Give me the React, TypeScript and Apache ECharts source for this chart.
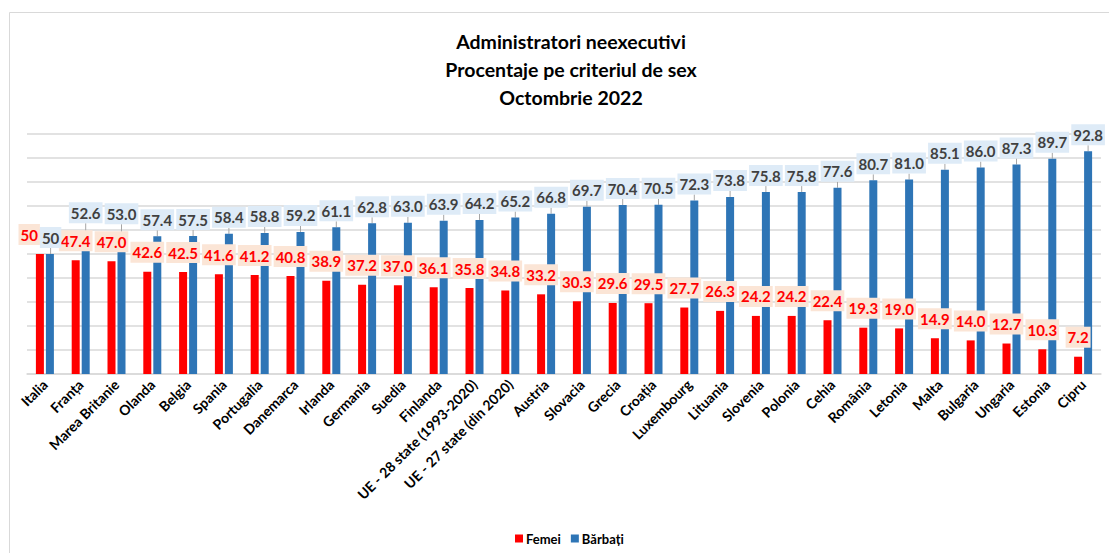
import React, { useEffect, useRef } from "react";
import * as echarts from "echarts";

const titleLines = ["Administratori neexecutivi", "Procentaje pe criteriul de sex", "Octombrie 2022"];

const categories = [
  "Italia", "Franța", "Marea Britanie", "Olanda", "Belgia", "Spania", "Portugalia", "Danemarca",
  "Irlanda", "Germania", "Suedia", "Finlanda", "UE - 28 state (1993-2020)", "UE - 27 state (din 2020)",
  "Austria", "Slovacia", "Grecia", "Croația", "Luxembourg", "Lituania", "Slovenia", "Polonia", "Cehia",
  "România", "Letonia", "Malta", "Bulgaria", "Ungaria", "Estonia", "Cipru",
];

// values as printed in the source (kept as text to preserve "50" vs "47.0")
const femeiValues = [
  "50", "47.4", "47.0", "42.6", "42.5", "41.6", "41.2", "40.8", "38.9", "37.2", "37.0", "36.1", "35.8", "34.8",
  "33.2", "30.3", "29.6", "29.5", "27.7", "26.3", "24.2", "24.2", "22.4", "19.3", "19.0", "14.9", "14.0", "12.7",
  "10.3", "7.2",
];
const barbatiValues = [
  "50", "52.6", "53.0", "57.4", "57.5", "58.4", "58.8", "59.2", "61.1", "62.8", "63.0", "63.9", "64.2", "65.2",
  "66.8", "69.7", "70.4", "70.5", "72.3", "73.8", "75.8", "75.8", "77.6", "80.7", "81.0", "85.1", "86.0", "87.3",
  "89.7", "92.8",
];

const seriesNames = ["Femei", "Bărbați"];

const FONT = "Lato, 'Open Sans', sans-serif";
const GRID_TOP = 134;
const GRID_BOTTOM_Y = 374;
const PX_PER_UNIT = (GRID_BOTTOM_Y - GRID_TOP) / 100;
const BAR_W = 8;
const BAR_STEP = 10; // bar width + gap

export default function App() {
  const ref = useRef<HTMLDivElement>(null);

  useEffect(() => {
    if (!ref.current) return;
    const chart = echarts.init(ref.current, undefined, { renderer: "svg" });
    const femei = femeiValues.map(Number);
    const barbati = barbatiValues.map(Number);

    chart.setOption({
      animation: false,
      backgroundColor: "#ffffff",
      title: {
        text: titleLines.join("\n"),
        left: 566,
        top: 22,
        textAlign: "center",
        textStyle: {
          fontFamily: FONT,
          fontSize: 19.5,
          fontWeight: "bold",
          color: "#000000",
          lineHeight: 28,
        },
      },
      legend: {
        data: seriesNames,
        left: 510,
        top: 527,
        itemWidth: 8,
        itemHeight: 8,
        itemGap: 10,
        icon: "rect",
        textStyle: { fontFamily: FONT, fontSize: 13, fontWeight: "bold", color: "#000", padding: [0, 0, 0, -2] },
      },
      graphic: [
        {
          type: "rect",
          shape: { x: 9.5, y: 12.5, width: 1300, height: 700 },
          style: { fill: "none", stroke: "#d9d9d9", lineWidth: 1 },
          silent: true,
          z: -10,
        },
      ],
      grid: {
        left: 27,
        right: 8,
        top: GRID_TOP,
        bottom: 553 - GRID_BOTTOM_Y,
        containLabel: false,
      },
      xAxis: {
        type: "category",
        data: categories,
        axisTick: { show: false },
        axisLine: { lineStyle: { color: "#d9d9d9", width: 1.5 } },
        axisLabel: {
          interval: 0,
          rotate: 45,
          margin: 8,
          fontFamily: FONT,
          fontSize: 14,
          fontWeight: "bold",
          color: "#000000",
        },
      },
      yAxis: {
        type: "value",
        min: 0,
        max: 100,
        interval: 10,
        axisLabel: { show: false },
        axisLine: { show: false },
        axisTick: { show: false },
        splitLine: { lineStyle: { color: "#d9d9d9", width: 1.5 } },
      },
      series: [
        {
          name: seriesNames[0],
          type: "bar",
          data: femei,
          barWidth: BAR_W,
          barGap: "25%",
          itemStyle: { color: "#ff0000" },
          label: {
            show: true,
            position: "top",
            distance: 9,
            formatter: (p: any) => femeiValues[p.dataIndex],
            fontFamily: FONT,
            fontSize: 15,
            fontWeight: "bold",
            color: "#ff0000",
            backgroundColor: "#fbe5d6",
            padding: [2, 2, 2, 2],
            lineHeight: 17,
          },
          labelLayout: (p: any) => {
            const i = p.dataIndex;
            if (femei[i] === barbati[i]) {
              return { dx: -p.labelRect.width / 2 };
            }
            return {};
          },
        },
        {
          name: seriesNames[1],
          type: "bar",
          data: barbati,
          barWidth: BAR_W,
          itemStyle: { color: "#2e75b6" },
          label: {
            show: true,
            position: "top",
            distance: 6,
            formatter: (p: any) => barbatiValues[p.dataIndex],
            fontFamily: FONT,
            fontSize: 15,
            fontWeight: "bold",
            color: "#404040",
            backgroundColor: "#deebf7",
            padding: [2, 2, 2, 2],
            lineHeight: 17,
          },
          labelLine: { show: true, lineStyle: { color: "#a6a6a6", width: 1 } },
          labelLayout: (p: any) => {
            const i = p.dataIndex;
            const w = p.labelRect.width;
            const h = p.labelRect.height;
            if (femei[i] === barbati[i]) {
              return { dx: w / 2 - BAR_STEP };
            }
            const diffPx = (barbati[i] - femei[i]) * PX_PER_UNIT;
            const need = h + 4;
            if (diffPx < need) {
              return { dy: diffPx - need - 6 };
            }
            return {};
          },
        },
      ],
    });

    return () => chart.dispose();
  }, []);

  return (
    <div
      ref={ref}
      style={{ position: "fixed", left: 0, top: 0, width: 1109, height: 553, background: "#fff" }}
    />
  );
}
